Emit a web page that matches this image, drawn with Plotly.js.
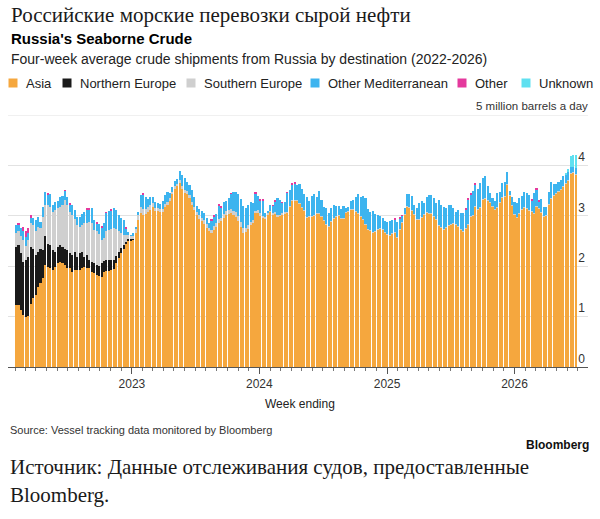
<!DOCTYPE html>
<html><head><meta charset="utf-8">
<script src="https://cdn.plot.ly/plotly-3.0.1.min.js"></script>
<style>html,body{margin:0;padding:0;background:#fff;}#chart{width:600px;height:519px;}</style>
</head><body><div id="chart"></div>
<script>
// ---- DATA (million barrels a day, four-week average, weekly) ----
const firstWeekEnding = '2022-02-03';

const asia = [
1.23,1.23,1.13,1.03,0.99,1.01,1.26,1.36,1.43,1.59,
1.66,1.76,2.02,1.99,1.96,1.92,1.99,2.06,2.09,2.06,
2.02,1.96,1.96,1.89,1.92,1.92,1.92,1.96,1.99,1.96,
1.96,1.89,1.86,1.83,1.81,1.79,1.89,1.90,1.91,1.92,
1.94,2.06,2.16,2.26,2.35,2.44,2.50,2.51,2.52,2.65,
2.92,3.05,3.02,3.04,3.08,3.12,3.18,3.10,3.10,3.08,
3.08,3.18,3.22,3.30,3.43,3.54,3.59,3.66,3.54,3.45,
3.43,3.35,3.21,3.11,3.02,2.94,2.89,2.84,2.76,
2.69,2.65,2.72,2.78,2.86,2.89,2.96,3.02,3.04,3.06,
3.02,2.98,2.90,2.77,2.65,2.67,2.73,2.81,2.86,3.05,
3.06,3.00,2.95,2.93,3.02,3.07,3.02,3.04,2.98,2.99,
3.02,3.04,3.05,3.17,3.30,3.29,3.30,3.23,3.15,3.10,
2.96,2.97,2.98,3.00,3.04,3.04,2.98,2.90,2.82,2.77,
2.88,2.94,2.97,3.00,2.94,2.94,3.06,3.08,3.11,3.11,
3.08,3.04,2.97,2.92,2.82,2.72,2.70,2.65,2.67,2.72,
2.73,2.72,2.65,2.62,2.59,2.64,2.65,2.55,2.72,2.85,
3.02,3.18,3.15,3.10,3.01,2.92,2.92,2.96,3.02,3.06,
3.04,3.04,2.97,2.92,2.80,2.76,2.71,2.76,2.80,2.82,
2.84,2.82,2.78,2.72,2.67,2.73,2.82,2.97,3.00,3.17,
3.12,3.15,3.31,3.34,3.29,3.25,3.18,3.12,3.15,3.26,
3.35,3.38,3.61,3.40,3.19,3.02,2.95,3.04,3.12,3.15,
3.13,3.10,3.08,3.04,3.18,3.13,3.06,2.97,3.00,3.21,
3.34,3.39,3.44,3.48,3.51,3.58,3.64,3.70,3.83,3.84,
3.81];

const northernEurope = [
1.16,1.19,1.13,1.06,1.13,1.18,1.13,0.99,0.79,0.70,
0.69,0.56,0.57,0.46,0.46,0.40,0.30,0.33,0.33,0.33,
0.33,0.36,0.30,0.33,0.37,0.27,0.34,0.33,0.20,0.26,
0.16,0.20,0.20,0.19,0.19,0.27,0.22,0.22,0.22,0.20,
0.18,0.15,0.13,0.10,0.08,0.05,0.04,0.03,0.02,0,
0,0,0,0,0,0,0,0,0,0,
0,0,0,0,0,0,0,0,0,0,
0,0,0,0,0,0,0,0,0,
0,0,0,0,0,0,0,0,0,0,
0,0,0,0,0,0,0,0,0,0,
0,0,0,0,0,0,0,0,0,0,
0,0,0,0,0,0,0,0,0,0,
0,0,0,0,0,0,0,0,0,0,
0,0,0,0,0,0,0,0,0,0,
0,0,0,0,0,0,0,0,0,0,
0,0,0,0,0,0,0,0,0,0,
0,0,0,0,0,0,0,0,0,0,
0,0,0,0,0,0,0,0,0,0,
0,0,0,0,0,0,0,0,0,0,
0,0,0,0,0,0,0,0,0,0,
0,0,0,0,0,0,0,0,0,0,
0,0,0,0,0,0,0,0,0,0,
0,0,0,0,0,0,0,0,0,0,
0];

const southernEurope = [
0.26,0.28,0.33,0.43,0.28,0.33,0.46,0.47,0.48,0.48,
0.40,0.66,0.62,0.76,0.76,0.76,0.83,0.76,0.76,0.82,
0.96,0.89,0.82,0.80,0.64,0.63,0.51,0.53,0.66,0.64,
0.76,0.76,0.66,0.67,0.63,0.46,0.44,0.57,0.59,0.61,
0.63,0.52,0.41,0.30,0.19,0.12,0.08,0.05,0.06,0.08,
0.10,0.12,0.12,0.10,0.10,0.10,0.08,0.06,0.06,0.06,
0.06,0.06,0.06,0.05,0.05,0.05,0.05,0.05,0.06,0.06,
0.06,0.06,0.06,0.06,0.06,0.07,0.07,0.07,0.07,
0.07,0.07,0.07,0.07,0.07,0.07,0.07,0.07,0.08,0.08,
0.08,0.09,0.09,0.10,0.10,0.09,0.08,0.07,0.06,0.05,
0.05,0.05,0.05,0.04,0.03,0.03,0.03,0.03,0.03,0.03,
0.03,0.03,0.03,0.03,0.02,0.02,0.02,0.02,0.02,0.02,
0.02,0.02,0.02,0.02,0.02,0.02,0.02,0.02,0.02,0.02,
0.02,0.02,0.02,0.02,0.02,0.02,0.02,0.02,0.02,0.02,
0.02,0.02,0.02,0.02,0.02,0.02,0.02,0.02,0.02,0.02,
0.02,0.02,0.02,0.02,0.02,0.02,0.02,0.02,0.02,0.02,
0.02,0.02,0.02,0.02,0.02,0.02,0.02,0.02,0.02,0.02,
0.02,0.02,0.02,0.02,0.02,0.02,0.02,0.02,0.02,0.02,
0.02,0.02,0.02,0.02,0.02,0.02,0.02,0.02,0.02,0.02,
0.02,0.02,0.02,0.02,0.02,0.02,0.02,0.02,0.02,0.02,
0.02,0.02,0.02,0.02,0.02,0.02,0.02,0.02,0.02,0.02,
0.02,0.02,0.02,0.02,0.02,0.02,0.02,0.02,0.02,0.02,
0.02,0.02,0.02,0.02,0.02,0.02,0.02,0.02,0.02,0.02,
0.02];

const otherMediterranean = [
0.17,0.12,0.16,0.17,0.17,0.13,0.11,0.13,0.22,0.20,
0.13,0.20,0.27,0.21,0.25,0.13,0.16,0.15,0.20,0.18,
0.18,0.17,0.14,0.19,0.19,0.16,0.20,0.22,0.23,0.26,
0.24,0.30,0.20,0.15,0.20,0.24,0.30,0.36,0.38,0.37,
0.40,0.39,0.32,0.30,0.30,0.13,0.05,0.03,0.05,0.05,
0.06,0.24,0.28,0.23,0.15,0.16,0.11,0.12,0.10,0.09,
0.15,0.17,0.20,0.11,0.10,0.11,0.10,0.17,0.21,0.25,
0.19,0.20,0.24,0.21,0.11,0.12,0.14,0.15,0.13,
0.10,0.17,0.19,0.19,0.26,0.20,0.25,0.20,0.23,0.29,
0.37,0.40,0.44,0.46,0.44,0.39,0.40,0.39,0.34,0.33,
0.28,0.25,0.29,0.09,0.04,0.11,0.14,0.20,0.34,0.29,
0.20,0.20,0.37,0.31,0.30,0.33,0.29,0.39,0.37,0.31,
0.39,0.31,0.40,0.41,0.32,0.44,0.31,0.26,0.31,0.27,
0.25,0.25,0.20,0.17,0.17,0.23,0.07,0.08,0.17,0.18,
0.27,0.37,0.38,0.45,0.51,0.39,0.36,0.43,0.35,0.28,
0.25,0.22,0.23,0.24,0.29,0.26,0.25,0.31,0.19,0.12,
0.11,0.23,0.26,0.27,0.18,0.21,0.31,0.32,0.21,0.29,
0.35,0.35,0.36,0.32,0.50,0.43,0.45,0.37,0.39,0.37,
0.29,0.24,0.32,0.32,0.36,0.36,0.47,0.43,0.48,0.43,
0.40,0.49,0.43,0.42,0.28,0.18,0.15,0.15,0.28,0.20,
0.29,0.28,0.23,0.08,0.16,0.24,0.29,0.29,0.25,0.31,
0.30,0.29,0.20,0.39,0.31,0.12,0.26,0.19,0.16,0.25,
0.31,0.23,0.18,0.18,0.18,0.19,0.14,0.14,0.12,0.10,
0.12];

const other = [
0,0.04,0,0.08,0.12,0.10,0.06,0,0,0,
0,0,0,0.03,0,0,0,0,0,0,
0.02,0,0.03,0,0,0,0,0,0,0.03,
0.03,0,0,0.04,0,0.04,0,0.03,0,0.03,
0,0,0,0,0,0.03,0,0,0,0,
0,0,0.03,0,0,0,0,0,0,0,
0,0,0,0,0,0,0,0,0,0,
0,0,0,0,0,0,0,0,0,
0,0.04,0.03,0,0.05,0.03,0,0,0,0.03,
0,0,0,0,0,0,0,0,0,0.05,
0,0.04,0.04,0,0,0,0.03,0.04,0,0,
0.03,0,0.03,0,0.04,0.04,0,0,0,0,
0,0,0,0,0,0,0,0,0,0,
0,0,0,0,0,0,0,0,0,0,
0,0,0,0,0,0,0,0,0,0,
0,0,0,0,0,0,0.04,0,0.04,0.03,
0,0,0,0,0,0,0,0,0,0,
0,0,0,0,0,0,0,0,0,0,
0,0,0,0,0,0.04,0.04,0.04,0,0.04,
0,0,0,0,0,0,0,0,0,0,
0,0,0,0,0,0,0,0,0,0,
0,0,0.04,0,0.05,0.04,0,0,0,0,
0,0,0,0,0,0,0,0,0,0,
0];

const unknown = [
0,0,0,0,0,0,0,0,0,0,
0,0,0,0,0,0,0,0,0,0,
0,0,0,0,0,0,0,0,0,0,
0,0,0,0,0,0,0,0,0,0,
0,0,0,0,0,0,0,0,0,0,
0,0,0,0,0,0,0,0,0,0,
0,0,0,0,0,0,0,0,0,0,
0,0,0,0,0,0,0,0,0,
0,0,0,0,0,0,0,0,0,0,
0,0,0,0,0,0,0,0,0,0,
0,0,0,0,0,0,0,0,0,0,
0,0,0,0,0,0,0,0,0,0,
0,0,0,0,0,0,0,0,0,0,
0,0,0,0,0,0,0,0,0,0,
0,0,0,0,0,0,0,0,0,0,
0,0,0,0,0,0,0,0,0,0,
0,0,0,0,0,0,0,0,0,0,
0,0,0,0,0,0,0,0,0,0,
0,0,0,0,0,0,0,0,0,0,
0,0,0,0,0,0,0,0,0,0,
0,0,0,0,0,0,0,0,0,0,
0,0,0,0,0,0,0,0,0,0,
0,0,0,0,0,0,0.04,0.06,0.22,0.25,
0.26];

const seriesNames = ['Asia','Northern Europe','Southern Europe','Other Mediterranean','Other','Unknown'];
const seriesValues = [asia, northernEurope, southernEurope, otherMediterranean, other, unknown];
const seriesColors = ['#f5a73e','#1a1a1a','#cfcfcf','#3db4ef','#e4399d','#5fe0f0'];

const yearTicks = ['2023-01-01','2024-01-01','2025-01-01','2026-01-01'];
const yearLabels = ['2023','2024','2025','2026'];
const yTickVals = [0,1,2,3,4];
const yTickText = ['0','1','2','3','4'];
const yTopValue = 5;
const yUnitLabel = '5 million barrels a day';

// ---- BUILD ----
function weekDates(n){
  const out=[]; const d0=new Date(firstWeekEnding+'T00:00:00Z');
  for(let i=0;i<n;i++){ out.push(new Date(d0.getTime()+i*7*86400000).toISOString().slice(0,10)); }
  return out;
}
const dates = weekDates(asia.length);

const traces = seriesNames.map((name,k)=>({
  type:'bar', name:name, x:dates, y:seriesValues[k],
  marker:{color:seriesColors[k], line:{width:0}},
  hovertemplate:name+': %{y}<extra></extra>'
}));

const W=600,H=519, ml=8, mr=12, mt=115, mb=152;
const pw=W-ml-mr, ph=H-mt-mb;
const px = x => (x-ml)/pw;
const py = y => (H-mb-y)/ph;

const sans = 'Liberation Sans, Arial, sans-serif';
const serif = 'Liberation Serif, Times New Roman, serif';

const annotations = [];
const shapes = [];
function txt(text,x,y,opts){
  annotations.push(Object.assign({text:text, x:px(x), y:py(y), xref:'paper', yref:'paper',
    xanchor:'left', yanchor:'middle', showarrow:false,
    font:{family:sans, size:12, color:'#222'}}, opts||{}));
}
txt('Российские морские перевозки сырой нефти', 9, 15, {font:{family:serif, size:21, color:'#1a1a1a'}});
txt('<b>Russia\'s Seaborne Crude</b>', 9, 39, {font:{family:sans, size:15, color:'#000'}});
txt('Four-week average crude shipments from Russia by destination (2022-2026)', 9, 59, {font:{family:sans, size:14, color:'#222'}});

const legendSquareCenters = [13, 67, 191, 315, 462, 526];
seriesNames.forEach((name,k)=>{
  const cx = legendSquareCenters[k];
  shapes.push({type:'rect', xref:'paper', yref:'paper', x0:px(cx-4.5), x1:px(cx+4.5), y0:py(87.5), y1:py(78.5),
    fillcolor:seriesColors[k], line:{width:0}});
  txt(name, cx+11, 83, {font:{family:sans, size:13, color:'#222'}});
});

// top gridline (value 5) with its unit label
shapes.push({type:'line', xref:'paper', yref:'y', x0:0, x1:1, y0:yTopValue, y1:yTopValue, line:{color:'#e2e2e2', width:1}});
annotations.push({text:yUnitLabel, xref:'paper', yref:'y', x:px(590), y:yTopValue, xanchor:'right', yanchor:'bottom',
  yshift:1, showarrow:false, font:{family:sans, size:11.5, color:'#333'}});

txt('Week ending', 300, 404, {xanchor:'center', font:{family:sans, size:12, color:'#222'}});
txt('Source: Vessel tracking data monitored by Bloomberg', 8, 430, {font:{family:sans, size:11, color:'#333'}});
txt('<b>Bloomberg</b>', 591, 445, {xanchor:'right', font:{family:sans, size:12, color:'#111'}});
txt('Источник: Данные отслеживания судов, предоставленные', 8, 467, {font:{family:serif, size:21, color:'#1a1a1a'}});
txt('Bloomberg.', 8, 495, {font:{family:serif, size:21, color:'#1a1a1a'}});

const layout = {
  width:W, height:H, margin:{l:ml, r:mr, t:mt, b:mb, pad:0},
  paper_bgcolor:'#fff', plot_bgcolor:'#fff',
  barmode:'stack', bargap:0.15, showlegend:false,
  xaxis:{type:'date', range:['2022-01-11','2026-07-30 12:00'],
    tickmode:'array', tickvals:yearTicks, ticktext:yearLabels,
    ticks:'outside', ticklen:6, tickcolor:'#555', tickwidth:1,
    showline:true, linecolor:'#555', linewidth:1, showgrid:false, zeroline:false,
    tickfont:{family:sans, size:12, color:'#333'},
    minor:{tickmode:'linear', tick0:'2022-01-01', dtick:'M1', ticks:'outside', ticklen:3, tickcolor:'#777', showgrid:false},
    fixedrange:true},
  yaxis:{range:[0,5], side:'right', tickmode:'array', tickvals:yTickVals, ticktext:yTickText,
    ticklabelposition:'inside top', ticks:'', showgrid:true, gridcolor:'#e2e2e2', gridwidth:1,
    zeroline:false, showline:false, tickfont:{family:sans, size:12, color:'#333'}, fixedrange:true},
  annotations:annotations, shapes:shapes
};

Plotly.newPlot('chart', traces, layout, {displayModeBar:false, staticPlot:true});
</script></body></html>
